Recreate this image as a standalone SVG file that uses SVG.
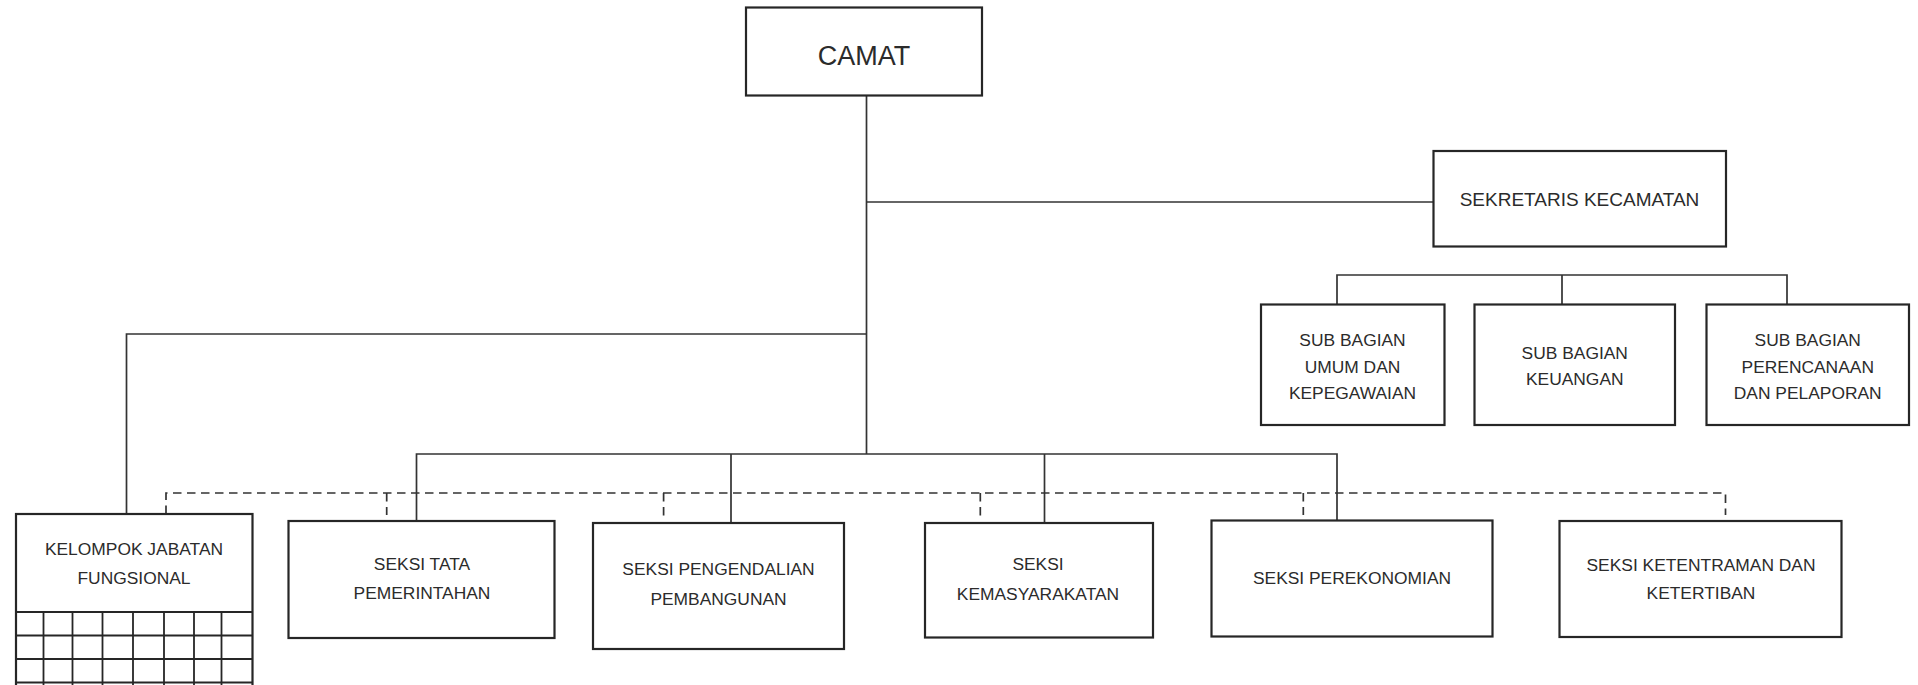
<svg xmlns="http://www.w3.org/2000/svg" width="1918" height="685" viewBox="0 0 1918 685">
<style>
.box{fill:#fff;stroke:#262626;stroke-width:2.2}
.grid{fill:none;stroke:#262626;stroke-width:1.8}
.ln{fill:none;stroke:#333;stroke-width:1.7}
.dash{fill:none;stroke:#333;stroke-width:1.7;stroke-dasharray:8.5 5.5}
text{font-family:"Liberation Sans",Arial,sans-serif;fill:#2b2b2b;text-anchor:middle;font-size:17.4px}
.big{font-size:27px}
.mid{font-size:19px}
</style>
<rect width="1918" height="685" fill="#fff"/>
<g id="connectors">
<path class="ln" d="M866.5 95.5V454"/>
<path class="ln" d="M866.5 202H1433.5"/>
<path class="ln" d="M1337 304.5V275H1787V304.5M1562 275V304.5"/>
<path class="ln" d="M866.5 334H126.5V514"/>
<path class="ln" d="M416.5 521V454H1337V520.5M731 454V523M1044.5 454V523"/>
<path class="dash" d="M166 514V493H1725.5V515"/>
<path class="dash" d="M386.7 493V515M663.6 493V516M980.3 493V516M1303.3 493V515"/>
</g>
<g id="camat">
<rect class="box" x="746" y="7.5" width="236" height="88"/>
<text class="big" x="864" y="65">CAMAT</text>
</g>
<g id="sekretaris">
<rect class="box" x="1433.5" y="151" width="292.5" height="95.5"/>
<text class="mid" x="1579.5" y="206">SEKRETARIS KECAMATAN</text>
</g>
<g id="sub-umum">
<rect class="box" x="1261" y="304.5" width="183.5" height="120.5"/>
<text x="1352.5" y="346">SUB BAGIAN</text>
<text x="1352.5" y="372.5">UMUM DAN</text>
<text x="1352.5" y="399">KEPEGAWAIAN</text>
</g>
<g id="sub-keuangan">
<rect class="box" x="1474.5" y="304.5" width="200.5" height="120.5"/>
<text x="1574.75" y="358.5">SUB BAGIAN</text>
<text x="1574.75" y="385">KEUANGAN</text>
</g>
<g id="sub-perencanaan">
<rect class="box" x="1706.5" y="304.5" width="202.5" height="120.5"/>
<text x="1807.75" y="346">SUB BAGIAN</text>
<text x="1807.75" y="372.5">PERENCANAAN</text>
<text x="1807.75" y="399">DAN PELAPORAN</text>
</g>
<g id="kelompok">
<rect class="box" x="16" y="514" width="236.5" height="180"/>
<path class="grid" d="M16 612H252.5M16 635.5H252.5M16 659H252.5M16 682.5H252.5M43.5 612V690M72.5 612V690M102.5 612V690M133 612V690M164 612V690M194 612V690M221.5 612V690"/>
<text x="134" y="555">KELOMPOK JABATAN</text>
<text x="134" y="583.5">FUNGSIONAL</text>
</g>
<g id="seksi-tata">
<rect class="box" x="288.5" y="521" width="266" height="117"/>
<text x="422" y="570">SEKSI TATA</text>
<text x="422" y="599">PEMERINTAHAN</text>
</g>
<g id="seksi-pengendalian">
<rect class="box" x="593" y="523" width="251" height="126"/>
<text x="718.5" y="575">SEKSI PENGENDALIAN</text>
<text x="718.5" y="605">PEMBANGUNAN</text>
</g>
<g id="seksi-kemasyarakatan">
<rect class="box" x="925" y="523" width="228" height="114.5"/>
<text x="1038" y="570">SEKSI</text>
<text x="1038" y="600">KEMASYARAKATAN</text>
</g>
<g id="seksi-perekonomian">
<rect class="box" x="1211.5" y="520.5" width="281" height="116"/>
<text x="1352" y="583.5">SEKSI PEREKONOMIAN</text>
</g>
<g id="seksi-ketentraman">
<rect class="box" x="1559.5" y="521" width="282" height="116"/>
<text x="1701" y="571">SEKSI KETENTRAMAN DAN</text>
<text x="1701" y="599">KETERTIBAN</text>
</g>
</svg>
